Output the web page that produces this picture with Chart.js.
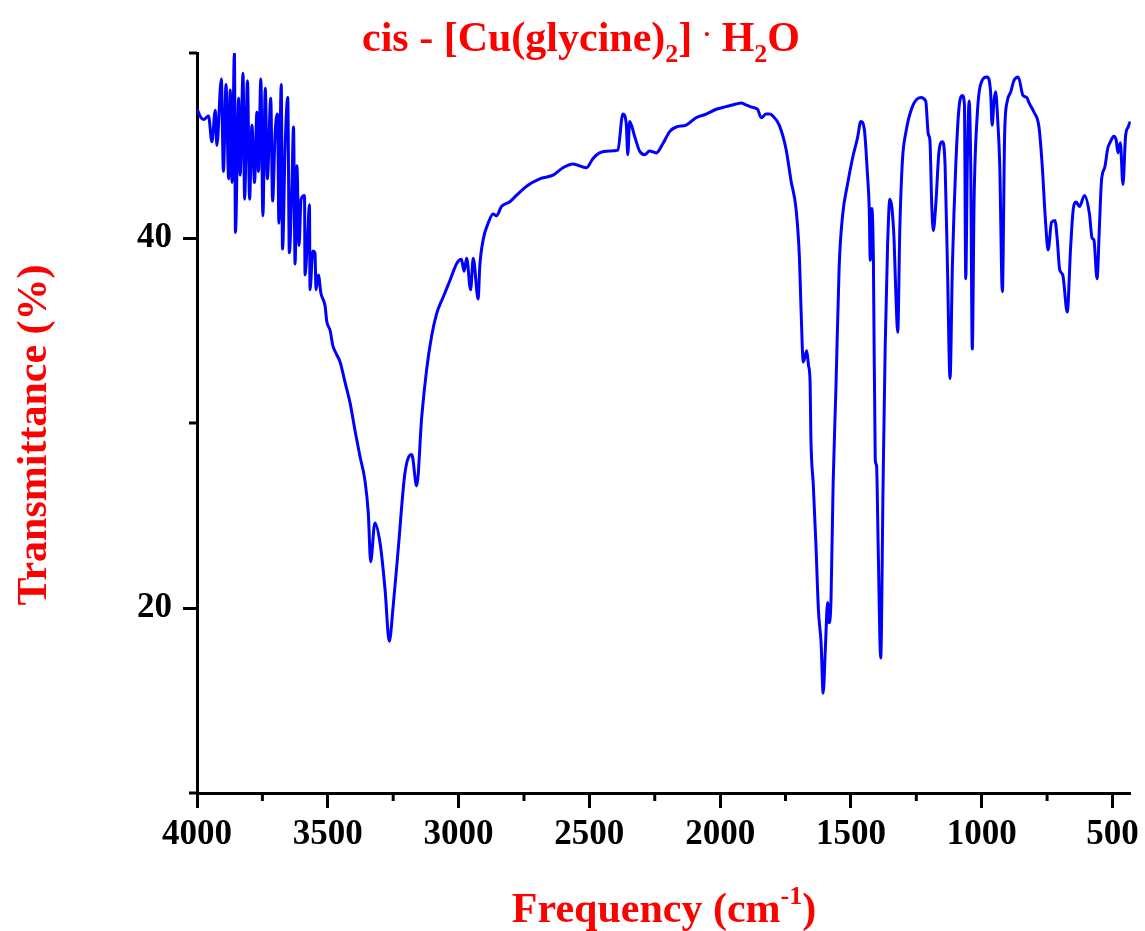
<!DOCTYPE html>
<html>
<head>
<meta charset="utf-8">
<script src="https://cdn.jsdelivr.net/npm/chart.js@4"></script>
<style>
  body { margin: 0; background: #fff; }
  #wrap { width: 1145px; height: 931px; }
</style>
</head>
<body>
<div id="wrap"><canvas id="irChart" width="1145" height="931"></canvas></div>
<script>
// IR spectrum (cm-1 / %T)
const wavenumber = [
  4000, 3987, 3975, 3956, 3943, 3930, 3924, 3907, 3899, 3889, 3879, 3873, 3866, 3857, 3853,
  3841, 3835, 3824, 3818, 3807, 3799, 3790, 3780, 3771, 3765, 3756, 3748, 3739, 3731, 3718,
  3711, 3701, 3692, 3687, 3678, 3673, 3663, 3653, 3647, 3637, 3631, 3625, 3618, 3610, 3602,
  3589, 3587, 3578, 3570, 3568, 3557, 3549, 3545, 3536, 3526, 3517, 3510, 3504, 3491, 3481,
  3466, 3453, 3434, 3415, 3396, 3377, 3358, 3345, 3336, 3320, 3300, 3281, 3265, 3250, 3230,
  3205, 3179, 3160, 3141, 3122, 3103, 3084, 3059, 3033, 3008, 2989, 2979, 2969, 2954, 2944,
  2925, 2919, 2906, 2887, 2868, 2855, 2836, 2804, 2779, 2740, 2690, 2639, 2601, 2563, 2511,
  2486, 2461, 2422, 2391, 2372, 2359, 2353, 2346, 2327, 2308, 2289, 2270, 2244, 2219, 2193,
  2168, 2130, 2092, 2053, 2015, 1977, 1939, 1920, 1901, 1876, 1857, 1843, 1824, 1812, 1799,
  1774, 1748, 1729, 1710, 1697, 1691, 1682, 1669, 1662, 1656, 1653, 1644, 1634, 1624, 1614,
  1606, 1598, 1589, 1583, 1576, 1568, 1557, 1545, 1532, 1513, 1494, 1475, 1462, 1449, 1437,
  1430, 1426, 1420, 1414, 1407, 1402, 1396, 1386, 1377, 1369, 1360, 1351, 1343, 1335, 1328,
  1321, 1313, 1303, 1290, 1265, 1233, 1214, 1204, 1198, 1191, 1185, 1176, 1163, 1150, 1140,
  1131, 1121, 1112, 1099, 1087, 1074, 1066, 1061, 1055, 1048, 1042, 1036, 1029, 1017, 1004,
  979, 966, 960, 953, 947, 938, 931, 921, 912, 902, 889, 877, 860, 842, 828,
  819, 800, 781, 769, 756, 746, 733, 720, 711, 702, 690, 673, 660, 650, 639,
  626, 607, 588, 578, 571, 559, 550, 542, 529, 518, 508, 495, 486, 479, 470,
  460, 450, 440, 432
];
const transmittance = [
  47.0, 46.55, 46.4, 46.6, 45.2, 46.9, 45.0, 48.6, 43.6, 48.3, 43.2, 48.0, 43.0, 50.0, 40.3,
  47.55, 43.4, 48.9, 42.1, 48.5, 42.1, 46.1, 43.0, 46.8, 43.6, 48.6, 41.2, 48.1, 43.2, 47.55,
  42.0, 45.75, 46.7, 40.8, 48.3, 39.4, 45.0, 47.6, 39.2, 42.9, 46.0, 38.6, 43.9, 39.6, 42.1,
  42.3, 38.0, 39.8, 41.8, 37.2, 39.3, 39.2, 37.2, 38.0, 37.0, 36.65, 36.3, 35.5, 35.0, 34.2,
  33.7, 33.3, 32.2, 31.1, 29.6, 28.2, 26.9, 25.1, 22.5, 24.6, 23.5, 21.0, 18.2, 20.1, 23.3,
  27.3, 28.3, 26.6, 30.3, 32.9, 34.7, 35.9, 36.8, 37.7, 38.6, 38.85, 38.2, 38.9, 37.2, 38.9,
  36.7, 38.45, 39.9, 40.8, 41.3, 41.2, 41.7, 41.96, 42.3, 42.8, 43.2, 43.4, 43.8, 44.0, 43.8,
  44.3, 44.6, 44.7, 44.75, 46.7, 46.2, 44.5, 46.3, 45.5, 44.7, 44.5, 44.7, 44.6, 45.1, 45.75,
  46.0, 46.1, 46.5, 46.7, 46.96, 47.1, 47.24, 47.3, 47.2, 47.06, 46.96, 46.5, 46.7, 46.7, 46.6,
  46.1, 44.8, 43.1, 41.6, 39.0, 36.3, 33.3, 33.9, 33.1, 32.2, 29.2, 26.7, 23.5, 19.85, 18.1,
  15.4, 17.7, 20.3, 19.2, 20.5, 26.7, 32.0, 38.4, 41.2, 42.9, 44.3, 45.4, 46.3, 45.9, 43.5,
  41.6, 38.8, 41.6, 38.8, 28.0, 27.7, 23.5, 17.3, 26.7, 34.1, 39.5, 42.1, 41.6, 39.9, 36.9,
  34.9, 40.5, 44.2, 45.7, 47.1, 47.6, 47.4, 45.6, 45.3, 41.8, 40.4, 41.7, 44.7, 45.2, 43.95,
  38.5, 32.4, 38.5, 43.95, 47.0, 47.7, 47.2, 37.8, 43.95, 47.4, 43.95, 34.0, 42.1, 46.65, 48.3,
  48.7, 47.9, 46.1, 47.4, 47.9, 46.2, 43.95, 37.1, 45.75, 47.4, 47.9, 48.5, 48.7, 47.7, 47.6,
  47.3, 46.8, 46.0, 44.0, 40.9, 39.35, 40.85, 40.95, 39.9, 38.3, 38.0, 36.0, 39.5, 41.55, 41.95,
  41.7, 42.3, 41.3, 40.0, 39.9, 37.8, 40.6, 43.1, 43.85, 44.85, 45.2, 45.5, 45.3, 44.6, 45.15,
  42.9, 45.5, 46.0, 46.3
];

const xTicks = [4000, 3500, 3000, 2500, 2000, 1500, 1000, 500];
const xMinorTicks = [3750, 3250, 2750, 2250, 1750, 1250, 750];
const yTicks = [20, 40];
const yMinorTicks = [10, 30, 50];

const FONT = '"Liberation Serif", "Times New Roman", serif';

// draws text made of normal / sub / sup pieces, centred on cx
function drawRuns(ctx, runs, cx, baseY, size, color) {
  const fontFor = r => 'bold ' + (r.k === 'n' ? size : Math.round(size * (r.k === 'dot' ? 0.6 : 0.62))) + 'px ' + FONT;
  let total = 0;
  runs.forEach(r => { ctx.font = fontFor(r); total += ctx.measureText(r.t).width; });
  let x = cx - total / 2;
  ctx.fillStyle = color;
  ctx.textBaseline = 'alphabetic';
  ctx.textAlign = 'left';
  runs.forEach(r => {
    ctx.font = fontFor(r);
    let dy = 0;
    if (r.k === 'sub') dy = size * 0.26;
    if (r.k === 'sup') dy = -size * 0.42;
    if (r.k === 'dot') dy = -size * 0.22;
    ctx.fillText(r.t, x, baseY + dy);
    x += ctx.measureText(r.t).width;
  });
}

const decorPlugin = {
  id: 'decor',
  afterDraw(chart) {
    const ctx = chart.ctx;
    const xs = chart.scales.x;
    const ys = chart.scales.y;
    ctx.save();

    // minor ticks
    ctx.strokeStyle = '#000';
    ctx.lineWidth = 3;
    xMinorTicks.forEach(v => {
      const px = xs.getPixelForValue(v);
      ctx.beginPath();
      ctx.moveTo(px, xs.top);
      ctx.lineTo(px, xs.top + 8);
      ctx.stroke();
    });
    yMinorTicks.forEach(v => {
      const py = ys.getPixelForValue(v);
      ctx.beginPath();
      ctx.moveTo(ys.right, py);
      ctx.lineTo(ys.right - 8, py);
      ctx.stroke();
    });

    // chart title
    drawRuns(ctx, [
      { t: 'cis - [Cu(glycine)', k: 'n' },
      { t: '2', k: 'sub' },
      { t: '] ', k: 'n' },
      { t: '·', k: 'dot' },
      { t: ' H', k: 'n' },
      { t: '2', k: 'sub' },
      { t: 'O', k: 'n' }
    ], 581, 51, 42, '#ff0000');

    // x axis title
    drawRuns(ctx, [
      { t: 'Frequency (cm', k: 'n' },
      { t: '-1', k: 'sup' },
      { t: ')', k: 'n' }
    ], 664, 922, 42, '#ff0000');

    // y axis title
    ctx.translate(46, 435);
    ctx.rotate(-Math.PI / 2);
    drawRuns(ctx, [{ t: 'Transmittance (%)', k: 'n' }], 0, 0, 42, '#ff0000');

    ctx.restore();
  }
};

const points = wavenumber.map((w, i) => ({ x: w, y: transmittance[i] }));

new Chart(document.getElementById('irChart'), {
  type: 'line',
  data: {
    datasets: [{
      data: points,
      borderColor: '#0000ff',
      borderWidth: 3,
      pointRadius: 0,
      cubicInterpolationMode: 'monotone',
      fill: false
    }]
  },
  options: {
    responsive: false,
    animation: false,
    events: [],
    layout: { padding: { top: 53, right: 14, left: 0, bottom: 0 } },
    plugins: {
      legend: { display: false },
      tooltip: { enabled: false }
    },
    scales: {
      x: {
        type: 'linear',
        reverse: true,
        min: 430,
        max: 4000,
        afterBuildTicks: s => { s.ticks = xTicks.map(v => ({ value: v })); },
        afterFit: s => { s.height = 138; },
        border: { display: true, color: '#000', width: 3 },
        grid: { drawOnChartArea: false, drawTicks: true, tickLength: 15, tickWidth: 3, tickColor: '#000' },
        ticks: {
          color: '#000',
          padding: 6,
          maxRotation: 0,
          autoSkip: false,
          callback: v => String(v),
          font: { family: FONT, size: 35, weight: 'bold' }
        }
      },
      y: {
        min: 10,
        max: 50,
        afterBuildTicks: s => { s.ticks = yTicks.map(v => ({ value: v })); },
        afterFit: s => { s.width = 197; },
        border: { display: true, color: '#000', width: 3 },
        grid: { drawOnChartArea: false, drawTicks: true, tickLength: 14, tickWidth: 3, tickColor: '#000' },
        ticks: {
          color: '#000',
          padding: 11,
          callback: v => String(v),
          font: { family: FONT, size: 35, weight: 'bold' }
        }
      }
    }
  },
  plugins: [decorPlugin]
});
</script>
</body>
</html>
